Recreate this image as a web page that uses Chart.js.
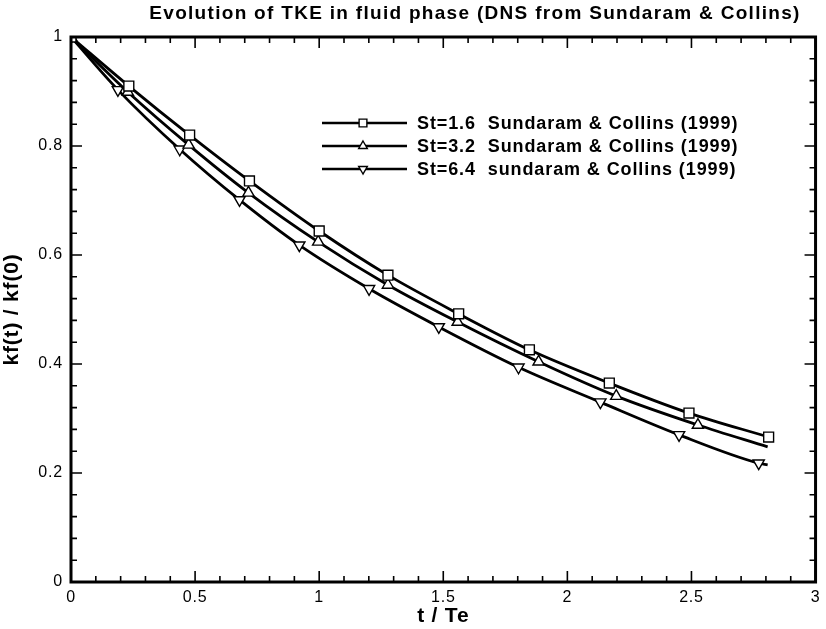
<!DOCTYPE html>
<html>
<head>
<meta charset="utf-8">
<script src="https://cdn.jsdelivr.net/npm/chart.js@4/dist/chart.umd.min.js"></script>
<style>
  html, body { margin: 0; padding: 0; background: #fff; }
  #wrap { width: 826px; height: 629px; }
</style>
</head>
<body>
<div id="wrap"><canvas id="tke"></canvas></div>
<script>
// DNS decay of fluid kinetic energy, three Stokes numbers
var timeSt16 = [0, 0.233, 0.478, 0.719, 1.0, 1.277, 1.562, 1.847, 2.169, 2.49, 2.811];
var kfSt16   = [1, 0.910, 0.820, 0.736, 0.644, 0.563, 0.492, 0.426, 0.365, 0.310, 0.266];

var timeSt32 = [0, 0.229, 0.474, 0.715, 0.996, 1.277, 1.558, 1.884, 2.197, 2.526, 2.807];
var kfSt32   = [1, 0.899, 0.802, 0.714, 0.624, 0.545, 0.477, 0.404, 0.341, 0.288, 0.248];

var timeSt64 = [0, 0.189, 0.438, 0.679, 0.920, 1.201, 1.482, 1.803, 2.133, 2.45, 2.771, 2.807];
var kfSt64   = [1, 0.903, 0.794, 0.701, 0.618, 0.538, 0.468, 0.394, 0.330, 0.270, 0.218, 0.215];

var seriesLabels = [
    'St=1.6  Sundaram & Collins (1999)',
    'St=3.2  Sundaram & Collins (1999)',
    'St=6.4  sundaram & Collins (1999)'
];

var xTicks = [0, 0.5, 1, 1.5, 2, 2.5, 3];
var yTicks = [0, 0.2, 0.4, 0.6, 0.8, 1];

var FONT = '"Liberation Sans", Arial, sans-serif';

function toPoints(xs, ys) {
    return xs.map(function (x, i) { return { x: x, y: ys[i] }; });
}

// markers on every sample except the trailing curve end-points
function radii(n, lastHidden, r) {
    var out = [];
    for (var i = 0; i < n; i++) out.push(lastHidden && i === n - 1 ? 0 : r);
    return out;
}

function makeSet(label, xs, ys, style, rot, r, lastHidden) {
    return {
        label: label,
        data: toPoints(xs, ys),
        borderColor: '#000',
        borderWidth: 2.8,
        backgroundColor: '#fff',
        pointStyle: style,
        rotation: rot,
        pointRadius: radii(xs.length, lastHidden, r),
        pointBorderWidth: 1.4,
        pointBorderColor: '#000',
        pointBackgroundColor: '#fff',
        cubicInterpolationMode: 'monotone',
        fill: false
    };
}

/* ── slightly looser text spacing everywhere ── */
var spacingPlugin = {
    id: 'spacing',
    beforeDraw: function (chart) { chart.ctx.letterSpacing = '0.8px'; }
};

/* ── frame, inward ticks on all four sides ── */
var framePlugin = {
    id: 'frame',
    afterDatasetsDraw: function (chart) {
        var ctx = chart.ctx, a = chart.chartArea;
        var xs = chart.scales.x, ys = chart.scales.y;
        ctx.save();
        ctx.strokeStyle = '#000';
        ctx.lineCap = 'butt';

        ctx.lineWidth = 1.6;
        ctx.beginPath();
        var i, v, p, len;
        for (i = 0; i <= 30; i++) {
            v = i / 10;
            p = xs.getPixelForValue(v);
            len = (i % 5 === 0) ? 11 : 6;
            ctx.moveTo(p, a.bottom); ctx.lineTo(p, a.bottom - len);
            ctx.moveTo(p, a.top); ctx.lineTo(p, a.top + len);
        }
        for (i = 0; i <= 25; i++) {
            v = i * 0.04;
            p = ys.getPixelForValue(v);
            len = (i % 5 === 0) ? 11 : 6;
            ctx.moveTo(a.left, p); ctx.lineTo(a.left + len, p);
            ctx.moveTo(a.right, p); ctx.lineTo(a.right - len, p);
        }
        ctx.stroke();

        ctx.lineWidth = 3;
        ctx.strokeRect(a.left, a.top, a.right - a.left, a.bottom - a.top);
        ctx.restore();
    }
};

/* ── legend: line stub with marker in the middle, then the text ── */
var legendPlugin = {
    id: 'stubLegend',
    afterDatasetsDraw: function (chart) {
        var ctx = chart.ctx;
        var rowY = [123, 146, 169];
        ctx.save();
        chart.data.datasets.forEach(function (ds, i) {
            var y = rowY[i];
            ctx.strokeStyle = '#000';
            ctx.lineWidth = 2.4;
            ctx.beginPath();
            ctx.moveTo(322, y); ctx.lineTo(407, y);
            ctx.stroke();
            ctx.fillStyle = '#fff';
            ctx.lineWidth = 1.4;
            Chart.helpers.drawPoint(ctx, {
                pointStyle: ds.pointStyle,
                rotation: ds.rotation,
                radius: ds.pointStyle === 'rect' ? 5.5 : 5,
                borderWidth: 1.4
            }, 363, y);
            ctx.fillStyle = '#000';
            ctx.font = 'bold 18px ' + FONT;
            ctx.letterSpacing = '0.9px';
            ctx.textBaseline = 'middle';
            ctx.textAlign = 'left';
            ctx.fillText(ds.label, 417, y + 1);
        });
        ctx.restore();
    }
};

/* ── heading above the frame ── */
var headingPlugin = {
    id: 'heading',
    afterDraw: function (chart) {
        var ctx = chart.ctx;
        ctx.save();
        ctx.fillStyle = '#000';
        ctx.font = 'bold 19px ' + FONT;
        ctx.letterSpacing = '1.3px';
        ctx.textAlign = 'center';
        ctx.textBaseline = 'middle';
        ctx.fillText('Evolution of TKE in fluid phase (DNS from Sundaram & Collins)', 475, 14);
        ctx.restore();
    }
};

var ctx = document.getElementById('tke').getContext('2d');
new Chart(ctx, {
    type: 'line',
    data: {
        datasets: [
            makeSet(seriesLabels[0], timeSt16, kfSt16, 'rect', 0, 7, false),
            makeSet(seriesLabels[1], timeSt32, kfSt32, 'triangle', 0, 6.5, true),
            makeSet(seriesLabels[2], timeSt64, kfSt64, 'triangle', 180, 6.5, true)
        ]
    },
    options: {
        responsive: true,
        maintainAspectRatio: false,
        animation: false,
        layout: { padding: { top: 37, right: 5, left: 0, bottom: 0 } },
        plugins: {
            legend: { display: false },
            tooltip: { enabled: false }
        },
        scales: {
            x: {
                type: 'linear',
                min: 0, max: 3,
                afterFit: function (s) { s.height = 47; },
                afterBuildTicks: function (s) { s.ticks = xTicks.map(function (v) { return { value: v }; }); },
                grid: { display: false, drawTicks: false },
                border: { display: false },
                ticks: {
                    color: '#000', font: { family: FONT, size: 16 }, padding: 6, maxRotation: 0,
                    callback: function (v) { return String(v); }
                },
                title: {
                    display: true, text: 't / Te', color: '#000',
                    font: { family: FONT, size: 21, weight: 'bold' },
                    padding: { top: 0, bottom: 0 }
                }
            },
            y: {
                type: 'linear',
                min: 0, max: 1,
                afterFit: function (s) { s.width = 71; },
                afterBuildTicks: function (s) { s.ticks = yTicks.map(function (v) { return { value: v }; }); },
                grid: { display: false, drawTicks: false },
                border: { display: false },
                ticks: {
                    color: '#000', font: { family: FONT, size: 16 }, padding: 8,
                    callback: function (v) { return String(v); }
                },
                title: {
                    display: true, text: 'kf(t) / kf(0)', color: '#000',
                    font: { family: FONT, size: 21, weight: 'bold' },
                    padding: { top: 0, bottom: 3 }
                }
            }
        }
    },
    plugins: [spacingPlugin, framePlugin, legendPlugin, headingPlugin]
});
</script>
</body>
</html>
